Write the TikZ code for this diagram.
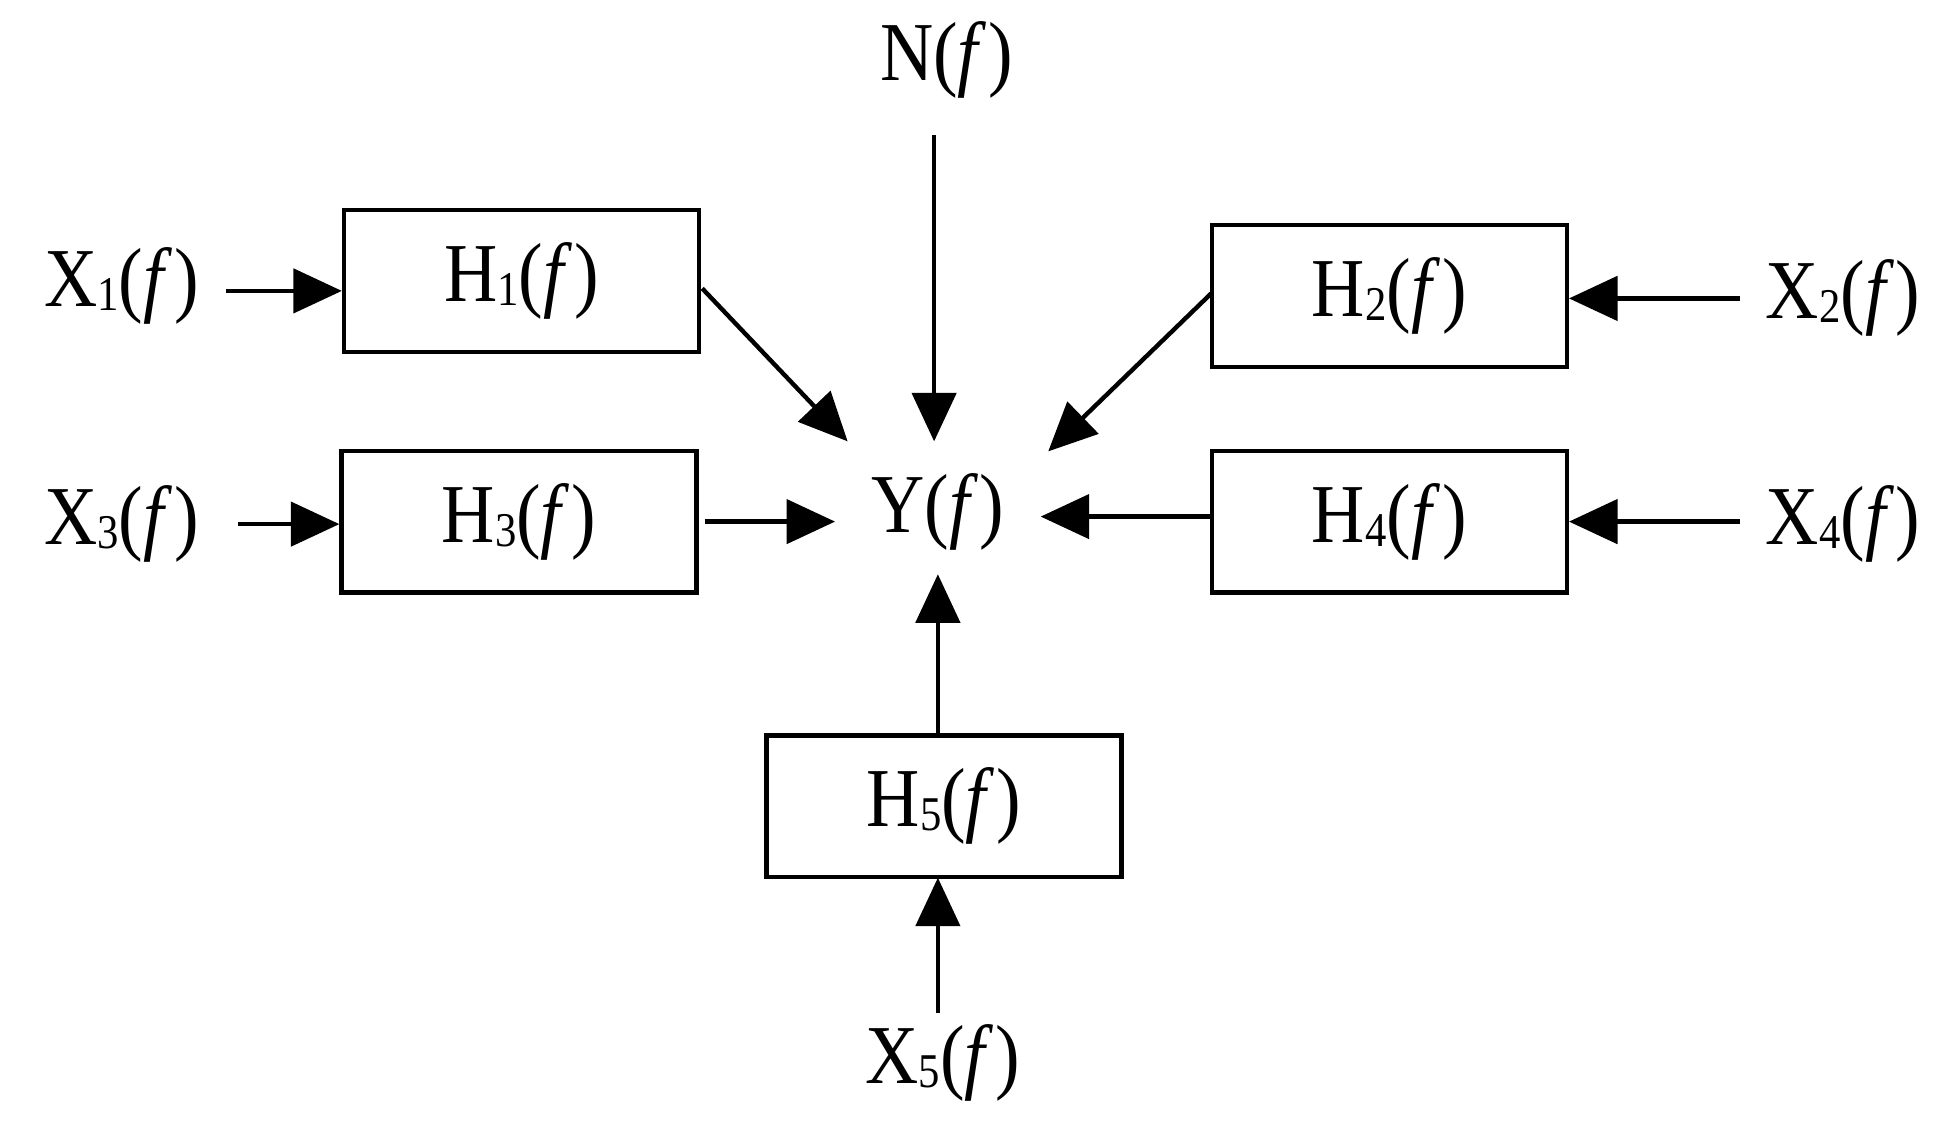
\documentclass[tikz,border=0pt]{standalone}
\usepackage{fontspec}
\setmainfont{Liberation Serif}
\usetikzlibrary{arrows.meta}
\begin{document}
\begin{tikzpicture}[x=0.01cm,y=-0.01cm,
  box/.style={draw,line width=1pt,minimum width=2.83cm,minimum height=1.13cm,inner sep=0pt,font=\fontsize{19}{22}\selectfont},
  lbl/.style={inner sep=0pt,font=\fontsize{19}{22}\selectfont},
  arr/.style={line width=1pt,-{Triangle[length=11pt,width=10pt]}}]
\useasboundingbox (0,0) rectangle (1560,897);
\newcommand{\ff}{(\textit{f}\kern0.5pt)}
\newcommand{\sbs}[1]{\raisebox{-0.1ex}{\fontsize{11}{12}\selectfont #1}}
\node[box] (h1) at (416,224) {\scalebox{0.88}[1]{H\sbs{1}\ff}};
\node[box] (h2) at (1108,236) {\scalebox{0.88}[1]{H\sbs{2}\ff}};
\node[box] (h3) at (414,416) {\scalebox{0.88}[1]{H\sbs{3}\ff}};
\node[box] (h4) at (1108,416) {\scalebox{0.88}[1]{H\sbs{4}\ff}};
\node[box] (h5) at (753,643) {\scalebox{0.88}[1]{H\sbs{5}\ff}};
\node[lbl] (y) at (748,408) {\scalebox{0.88}[1]{Y\ff}};
\node[lbl] (n) at (755,48) {\scalebox{0.88}[1]{N\ff}};
\node[lbl] (x1) at (97,228) {\scalebox{0.88}[1]{X\sbs{1}\ff}};
\node[lbl] (x2) at (1470,238) {\scalebox{0.88}[1]{X\sbs{2}\ff}};
\node[lbl] (x3) at (97,418) {\scalebox{0.88}[1]{X\sbs{3}\ff}};
\node[lbl] (x4) at (1470,418) {\scalebox{0.88}[1]{X\sbs{4}\ff}};
\node[lbl] (x5) at (752,848) {\scalebox{0.88}[1]{X\sbs{5}\ff}};
\coordinate (a1s) at (180,232); \coordinate (a1e) at (h1.west|-a1s);
\coordinate (a2s) at (1388,238); \coordinate (a2e) at (h2.east|-a2s);
\coordinate (a3s) at (190,418); \coordinate (a3e) at (h3.west|-a3s);
\coordinate (a4s) at (1388,416); \coordinate (a4e) at (h4.east|-a4s);
\coordinate (ns) at (745,108); \coordinate (ne) at (745,352);
\coordinate (b1s) at (560,230); \coordinate (b1e) at (676,352);
\coordinate (b2s) at (966,234); \coordinate (b2e) at (836,360);
\coordinate (b3s) at (562,416); \coordinate (b3e) at (666,416);
\coordinate (b4s) at (966,412); \coordinate (b4e) at (830,412);
\coordinate (b5s) at (748,587); \coordinate (b5e) at (748,458);
\coordinate (x5s) at (748,808); \coordinate (x5e) at (748,700);
\draw[arr] (a1s) -- (a1e);
\draw[arr] (a2s) -- (a2e);
\draw[arr] (a3s) -- (a3e);
\draw[arr] (a4s) -- (a4e);
\draw[arr] (ns) -- (ne);
\draw[arr] (b1s) -- (b1e);
\draw[arr] (b2s) -- (b2e);
\draw[arr] (b3s) -- (b3e);
\draw[arr] (b4s) -- (b4e);
\draw[arr] (b5s) -- (b5e);
\draw[arr] (x5s) -- (x5e);
\end{tikzpicture}
\end{document}
